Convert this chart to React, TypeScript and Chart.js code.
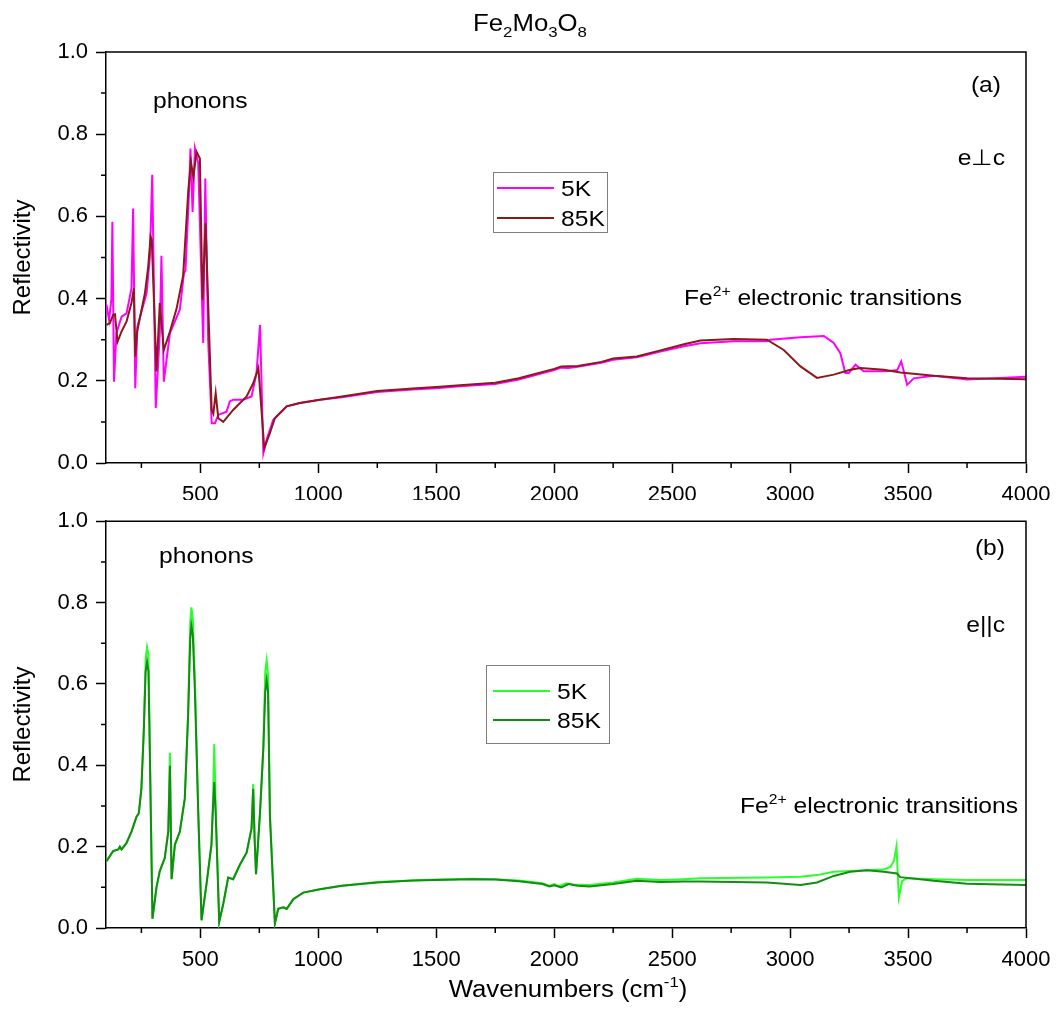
import React, { useEffect, useRef } from 'react';
import { Chart, registerables } from 'chart.js';

Chart.register(...registerables);

const FONT = '"Liberation Sans", Arial, Helvetica, sans-serif';

// ---------- Panel (a): e ⊥ c ----------
const waveA5K = [102,113,123,127,134,144,166,187,208,215,224,233,272,286,296,311,328,335,345,371,413,430,437,453,458,467,477,491,512,521,533,548,562,576,611,625,639,682,717,738,753,767,781,809,866,922,1007,1100,1250,1400,1500,1600,1750,1850,2000,2030,2060,2100,2200,2250,2350,2450,2550,2620,2761,2902,2916,3044,3143,3185,3213,3234,3249,3277,3312,3411,3454,3471,3482,3496,3524,3609,3751,3892,4000];
const reflA5K = [0.385,0.348,0.40,0.587,0.198,0.316,0.356,0.364,0.425,0.619,0.182,0.332,0.413,0.50,0.701,0.134,0.316,0.504,0.198,0.316,0.373,0.46,0.469,0.672,0.765,0.611,0.765,0.729,0.292,0.692,0.30,0.097,0.097,0.117,0.125,0.15,0.154,0.154,0.162,0.219,0.336,0.024,0.057,0.105,0.138,0.146,0.154,0.16,0.173,0.179,0.182,0.187,0.192,0.203,0.226,0.232,0.231,0.234,0.244,0.251,0.257,0.271,0.284,0.2915,0.296,0.296,0.300,0.306,0.309,0.292,0.267,0.219,0.219,0.239,0.223,0.223,0.226,0.247,0.223,0.19,0.206,0.212,0.203,0.207,0.21];

const waveA85K = [102,116,130,138,149,166,187,208,218,224,232,265,279,289,294,314,328,345,371,399,427,449,460,470,484,498,509,522,548,555,565,576,597,639,696,724,746,771,795,816,866,922,1007,1100,1250,1400,1500,1600,1750,1850,2000,2030,2100,2200,2250,2350,2450,2550,2620,2761,2902,2973,3044,3114,3185,3255,3298,3397,3468,3609,3751,4000];
const reflA85K = [0.336,0.34,0.36,0.362,0.295,0.32,0.344,0.389,0.425,0.259,0.32,0.413,0.478,0.551,0.543,0.223,0.389,0.275,0.32,0.375,0.456,0.664,0.733,0.696,0.757,0.741,0.397,0.583,0.129,0.12,0.17,0.109,0.10,0.129,0.162,0.194,0.231,0.036,0.073,0.109,0.138,0.146,0.154,0.162,0.175,0.181,0.185,0.189,0.195,0.206,0.229,0.235,0.236,0.246,0.254,0.259,0.274,0.289,0.298,0.302,0.30,0.275,0.235,0.207,0.215,0.227,0.231,0.227,0.22,0.212,0.206,0.204];

// ---------- Panel (b): e || c ----------
const waveB5K = [102,130,152,159,166,187,208,229,239,250,260,268,274,280,286,297,314,328,349,364,371,378,392,413,434,448,457,462,468,477,491,505,526,547,553,559,565,580,597,618,639,668,696,717,724,730,736,753,767,775,781,787,795,816,830,852,866,894,936,1007,1100,1250,1400,1500,1650,1750,1850,1950,1980,2000,2020,2050,2080,2150,2250,2350,2450,2550,2620,2902,3044,3114,3185,3255,3326,3397,3425,3440,3451,3461,3475,3496,3609,3751,4000];
const reflB5K = [0.164,0.189,0.193,0.2,0.193,0.209,0.237,0.273,0.282,0.342,0.488,0.66,0.69,0.67,0.45,0.023,0.1,0.14,0.172,0.237,0.431,0.12,0.205,0.237,0.318,0.528,0.75,0.788,0.76,0.609,0.285,0.019,0.108,0.205,0.3,0.452,0.3,0.015,0.059,0.124,0.12,0.156,0.185,0.245,0.354,0.22,0.132,0.285,0.448,0.63,0.658,0.62,0.285,0.011,0.047,0.051,0.047,0.071,0.087,0.095,0.104,0.113,0.117,0.119,0.121,0.12,0.117,0.11,0.104,0.108,0.103,0.11,0.107,0.106,0.112,0.121,0.118,0.12,0.122,0.124,0.126,0.13,0.138,0.14,0.142,0.144,0.15,0.165,0.201,0.075,0.116,0.122,0.12,0.118,0.118];

const waveB85K = [102,130,152,159,166,187,208,229,239,250,260,268,274,280,286,297,314,328,349,364,371,378,392,413,434,448,457,462,468,477,491,505,526,547,553,559,565,580,597,618,639,668,696,717,724,730,736,753,767,775,781,787,795,816,830,852,866,894,936,1007,1100,1250,1400,1500,1650,1750,1850,1950,1980,2000,2030,2060,2100,2150,2250,2350,2450,2550,2620,2902,3044,3114,3185,3255,3326,3397,3453,3467,3609,3751,4000];
const reflB85K = [0.164,0.189,0.193,0.2,0.193,0.209,0.237,0.273,0.282,0.342,0.48,0.63,0.654,0.63,0.42,0.023,0.1,0.14,0.172,0.237,0.399,0.12,0.205,0.237,0.318,0.52,0.71,0.743,0.72,0.58,0.285,0.019,0.108,0.205,0.29,0.359,0.28,0.015,0.059,0.124,0.12,0.156,0.185,0.245,0.342,0.22,0.132,0.285,0.44,0.58,0.609,0.58,0.27,0.011,0.047,0.051,0.047,0.071,0.087,0.095,0.104,0.112,0.117,0.118,0.12,0.119,0.115,0.108,0.102,0.105,0.1,0.108,0.104,0.102,0.108,0.116,0.113,0.114,0.114,0.112,0.106,0.112,0.128,0.138,0.142,0.138,0.134,0.125,0.116,0.109,0.106];

// ---------- Axes / labels ----------
const seriesLabels = ['5K', '85K'];
const xMin = 100;
const xMax = 4000;
const xMajorTicks = [500, 1000, 1500, 2000, 2500, 3000, 3500, 4000];
const xMinorTicks = [250, 750, 1250, 1750, 2250, 2750, 3250, 3750];
const yMajorTicks = [0, 0.2, 0.4, 0.6, 0.8, 1.0];
const yMinorTicks = [0.1, 0.3, 0.5, 0.7, 0.9];

const colorsA = ['#ff00ff', '#8b1a1a'];
const colorsB = ['#2bff2b', '#128c12'];

const SX = 1.12; // horizontal stretch of the figure's own text

type Seg = { t: string; s?: 'sup' | 'sub' };

function drawRich(ctx: CanvasRenderingContext2D, segs: Seg[], x: number, y: number, size: number, align: 'left' | 'center' | 'right') {
  const big = `${size}px ${FONT}`;
  const small = `${Math.round(size * 0.64)}px ${FONT}`;
  let total = 0;
  const widths = segs.map((sg) => {
    ctx.font = sg.s ? small : big;
    const w = ctx.measureText(sg.t).width;
    total += w;
    return w;
  });
  const tw = total * SX;
  const start = align === 'left' ? x : align === 'center' ? x - tw / 2 : x - tw;
  ctx.save();
  ctx.translate(start, y);
  ctx.scale(SX, 1);
  ctx.textAlign = 'left';
  ctx.textBaseline = 'alphabetic';
  ctx.fillStyle = '#000';
  let cx = 0;
  segs.forEach((sg, i) => {
    ctx.font = sg.s ? small : big;
    const dy = sg.s === 'sup' ? -size * 0.42 : sg.s === 'sub' ? size * 0.26 : 0;
    ctx.fillText(sg.t, cx, dy);
    cx += widths[i];
  });
  ctx.restore();
}

type Annot = { segs: Seg[]; x: number; y: number; size: number; align: 'left' | 'center' | 'right' };
type LegendBox = { x: number; y: number; w: number; h: number; l1: number; l2: number; rows: number[]; tx: number };

function toPoints(w: number[], r: number[]) {
  return w.map((x, i) => ({ x, y: r[i] }));
}

function makeConfig(opts: {
  w5: number[]; r5: number[]; w85: number[]; r85: number[]; colors: string[];
  canvasH: number; padTop: number; plotBottom: number; annots: Annot[]; legend: LegendBox;
}): any {
  const decor = {
    id: 'decor',
    afterDraw(chart: any) {
      const ctx: CanvasRenderingContext2D = chart.ctx;
      const { left, right, top, bottom } = chart.chartArea;
      const xs = chart.scales.x;
      const ys = chart.scales.y;
      ctx.save();
      ctx.strokeStyle = '#000';
      ctx.lineWidth = 1.5;
      ctx.beginPath();
      ctx.moveTo(left, top);
      ctx.lineTo(right, top);
      ctx.lineTo(right, bottom);
      ctx.stroke();
      ctx.beginPath();
      xMinorTicks.forEach((v) => {
        const px = xs.getPixelForValue(v);
        ctx.moveTo(px, bottom);
        ctx.lineTo(px, bottom + 5);
      });
      yMinorTicks.forEach((v) => {
        const py = ys.getPixelForValue(v);
        ctx.moveTo(left - 5, py);
        ctx.lineTo(left, py);
      });
      ctx.stroke();
      const lg = opts.legend;
      ctx.strokeStyle = '#7f7f7f';
      ctx.lineWidth = 1;
      ctx.strokeRect(lg.x + 0.5, lg.y + 0.5, lg.w, lg.h);
      chart.data.datasets.forEach((ds: any, i: number) => {
        ctx.strokeStyle = ds.borderColor;
        ctx.lineWidth = 2;
        ctx.beginPath();
        ctx.moveTo(lg.l1, lg.rows[i]);
        ctx.lineTo(lg.l2, lg.rows[i]);
        ctx.stroke();
        drawRich(ctx, [{ t: ds.label }], lg.tx, lg.rows[i] + 8, 22, 'left');
      });
      opts.annots.forEach((a) => drawRich(ctx, a.segs, a.x, a.y, a.size, a.align));
      ctx.restore();
    },
  };

  const gridOpts = { display: true, drawOnChartArea: false, drawTicks: true, tickLength: 10, tickColor: '#000', tickWidth: 1.5 };

  return {
    type: 'line',
    data: {
      datasets: [
        {
          label: seriesLabels[0],
          data: toPoints(opts.w5, opts.r5),
          borderColor: opts.colors[0],
          backgroundColor: opts.colors[0],
          borderWidth: 2,
          pointRadius: 0,
          tension: 0,
          order: 1,
        },
        {
          label: seriesLabels[1],
          data: toPoints(opts.w85, opts.r85),
          borderColor: opts.colors[1],
          backgroundColor: opts.colors[1],
          borderWidth: 2,
          pointRadius: 0,
          tension: 0,
          order: 0,
        },
      ],
    },
    options: {
      animation: false,
      responsive: false,
      maintainAspectRatio: false,
      layout: { padding: { top: opts.padTop, right: 35, left: 0, bottom: 0 } },
      plugins: { legend: { display: false }, tooltip: { enabled: false }, title: { display: false } },
      events: [],
      scales: {
        x: {
          type: 'linear',
          min: xMin,
          max: xMax,
          afterBuildTicks: (scale: any) => {
            scale.ticks = xMajorTicks.map((v) => ({ value: v }));
          },
          ticks: {
            autoSkip: false,
            maxRotation: 0,
            color: '#000',
            font: { size: 22, family: FONT },
            padding: 9,
            callback: (v: any) => String(v),
          },
          grid: gridOpts,
          border: { display: true, color: '#000', width: 1.5 },
          afterFit: (scale: any) => {
            scale.height = opts.canvasH - opts.plotBottom;
          },
        },
        y: {
          type: 'linear',
          min: 0,
          max: 1,
          afterBuildTicks: (scale: any) => {
            scale.ticks = yMajorTicks.map((v) => ({ value: v }));
          },
          ticks: {
            autoSkip: false,
            color: '#000',
            font: { size: 22, family: FONT },
            padding: 8,
            callback: (v: any) => Number(v).toFixed(1),
          },
          grid: gridOpts,
          border: { display: true, color: '#000', width: 1.5 },
          title: {
            display: true,
            text: 'Reflectivity',
            color: '#000',
            font: { size: 24, family: FONT },
            padding: { top: 9, bottom: 0 },
          },
          afterFit: (scale: any) => {
            scale.width = 106;
          },
        },
      },
    },
    plugins: [decor],
  };
}

export default function App() {
  const refA = useRef<HTMLCanvasElement>(null);
  const refB = useRef<HTMLCanvasElement>(null);

  useEffect(() => {
    Chart.defaults.font.family = FONT;
    const fe2: Seg[] = [{ t: 'Fe' }, { t: '2+', s: 'sup' }, { t: ' electronic transitions' }];
    const chartA = new Chart(refA.current as HTMLCanvasElement, makeConfig({
      w5: waveA5K, r5: reflA5K, w85: waveA85K, r85: reflA85K, colors: colorsA,
      canvasH: 500, padTop: 52, plotBottom: 463,
      legend: { x: 493, y: 172, w: 114, h: 60, l1: 497, l2: 554, rows: [188, 218], tx: 561 },
      annots: [
        { segs: [{ t: 'Fe' }, { t: '2', s: 'sub' }, { t: 'Mo' }, { t: '3', s: 'sub' }, { t: 'O' }, { t: '8', s: 'sub' }], x: 530, y: 31, size: 23, align: 'center' },
        { segs: [{ t: 'phonons' }], x: 153, y: 108, size: 22, align: 'left' },
        { segs: [{ t: '(a)' }], x: 1001, y: 92, size: 22, align: 'right' },
        { segs: [{ t: 'e\u22a5c' }], x: 1005, y: 165, size: 22, align: 'right' },
        { segs: fe2, x: 962, y: 305, size: 22, align: 'right' },
      ],
    }));
    const chartB = new Chart(refB.current as HTMLCanvasElement, makeConfig({
      w5: waveB5K, r5: reflB5K, w85: waveB85K, r85: reflB85K, colors: colorsB,
      canvasH: 514, padTop: 15, plotBottom: 428,
      legend: { x: 486, y: 165, w: 123, h: 78, l1: 493, l2: 550, rows: [191, 220], tx: 557 },
      annots: [
        { segs: [{ t: 'phonons' }], x: 159, y: 63, size: 22, align: 'left' },
        { segs: [{ t: '(b)' }], x: 1005, y: 55, size: 22, align: 'right' },
        { segs: [{ t: 'e||c' }], x: 1005, y: 132, size: 22, align: 'right' },
        { segs: fe2, x: 740, y: 313, size: 22, align: 'left' },
        { segs: [{ t: 'Wavenumbers (cm' }, { t: '-1', s: 'sup' }, { t: ')' }], x: 568, y: 497, size: 23, align: 'center' },
      ],
    }));
    return () => {
      chartA.destroy();
      chartB.destroy();
    };
  }, []);

  return (
    <div style={{ position: 'absolute', left: 0, top: 0, width: 1061, height: 1014, background: '#fff' }}>
      <canvas ref={refA} width={1061} height={500} style={{ position: 'absolute', left: 0, top: 0 }} />
      <canvas ref={refB} width={1061} height={514} style={{ position: 'absolute', left: 0, top: 500 }} />
    </div>
  );
}
